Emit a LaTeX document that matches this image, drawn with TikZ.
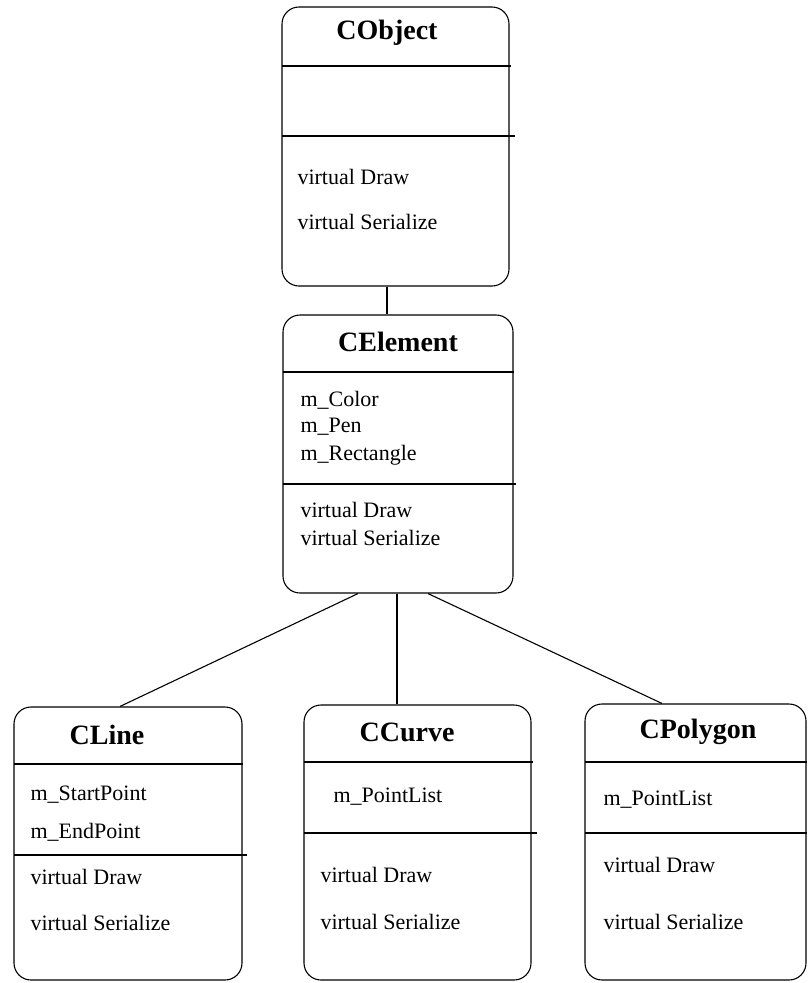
\documentclass[tikz,border=0pt]{standalone}
\usepackage{fontspec}
\setmainfont{Liberation Serif}
\usetikzlibrary{positioning}

\begin{document}
\begin{tikzpicture}[x=1pt, y=-1pt, line width=1.1pt,
    classbox/.style={draw, rounded corners=17pt, inner sep=0pt},
    title/.style={font=\fontsize{28}{32}\selectfont\bfseries, inner sep=0pt},
    member/.style={anchor=west, inner sep=0pt, font=\fontsize{22}{26}\selectfont}]

  \useasboundingbox (0,0) rectangle (807,983);

  % Define class boxes
  \node[classbox, minimum width=227pt, minimum height=279pt] (cobject)  at (395.5,146.5) {};
  \node[classbox, minimum width=230pt, minimum height=278pt] (celement) at (398,454) {};
  \node[classbox, minimum width=228pt, minimum height=273pt] (cline)    at (128,843.5) {};
  \node[classbox, minimum width=227pt, minimum height=275pt] (ccurve)   at (417.5,842.5) {};
  \node[classbox, minimum width=221pt, minimum height=276pt] (cpolygon) at (695.5,842) {};

  % Compartments
  \draw (282,66) -- (511,66);   \draw (282,136) -- (515,136);
  \draw (283,372) -- (514,372); \draw (283,484) -- (516,484);
  \draw (14,764) -- (243,764);  \draw (14,855) -- (247,855);
  \draw (304,762) -- (533,762); \draw (304,833) -- (537,833);
  \draw (585,762) -- (807,762); \draw (585,833) -- (807,833);

  % CObject
  \node[title]  (cobject-name) at (387,33) {CObject};
  \node[member] (cobject-draw) at (297,177) {virtual Draw};
  \node[member] (cobject-ser)  at (297,222) {virtual Serialize};

  % CElement
  \node[title]  (celement-name)  at (398,342) {CElement};
  \node[member] (celement-color) at (300,400) {m\_Color};
  \node[member] (celement-pen)   at (300,427) {m\_Pen};
  \node[member] (celement-rect)  at (300,455) {m\_Rectangle};
  \node[member] (celement-draw)  at (300,510) {virtual Draw};
  \node[member] (celement-ser)   at (300,538) {virtual Serialize};

  % CLine
  \node[title]  (cline-name)  at (107,735) {CLine};
  \node[member] (cline-start) at (30,795) {m\_StartPoint};
  \node[member] (cline-end)   at (30,832) {m\_EndPoint};
  \node[member] (cline-draw)  at (30,877) {virtual Draw};
  \node[member] (cline-ser)   at (30,923) {virtual Serialize};

  % CCurve
  \node[title]  (ccurve-name) at (407,732) {CCurve};
  \node[member] (ccurve-pts)  at (333,797) {m\_PointList};
  \node[member] (ccurve-draw) at (320,875) {virtual Draw};
  \node[member] (ccurve-ser)  at (320,922) {virtual Serialize};

  % CPolygon
  \node[title]  (cpolygon-name) at (698,732) {CPolygon};
  \node[member] (cpolygon-pts)  at (603,800) {m\_PointList};
  \node[member] (cpolygon-draw) at (603,865) {virtual Draw};
  \node[member] (cpolygon-ser)  at (603,922) {virtual Serialize};

  % Connect the classes
  \draw ([xshift=-8.5pt]cobject.south) -- ([xshift=-11pt]celement.north);
  \draw ([xshift=-40pt]celement.south) -- ([xshift=-8pt]cline.north);
  \draw ([xshift=-1pt]celement.south)  -- ([xshift=-20.5pt]ccurve.north);
  \draw ([xshift=30pt]celement.south)  -- ([xshift=-33.5pt]cpolygon.north);

\end{tikzpicture}
\end{document}
